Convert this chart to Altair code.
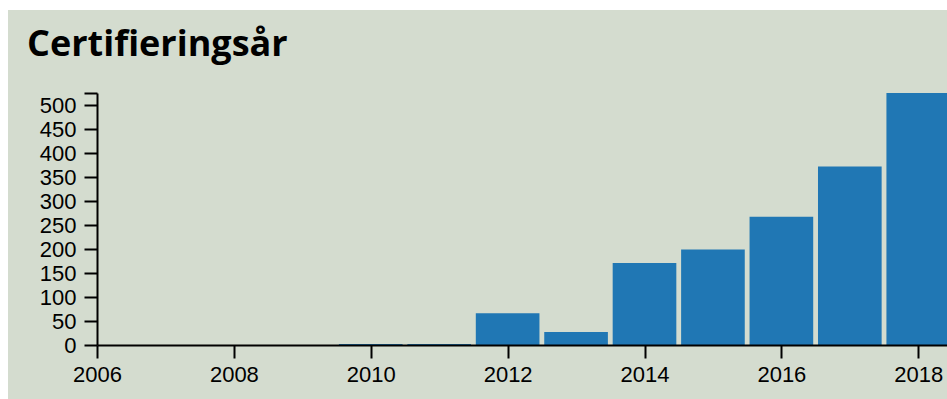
import altair as alt
import pandas as pd

years = [2010, 2011, 2012, 2013, 2014, 2015, 2016, 2017, 2018]
counts = [2, 2, 66, 27, 171, 199, 267, 372, 525]
x_ticks = [2006, 2008, 2010, 2012, 2014, 2016, 2018]
y_ticks = [0, 50, 100, 150, 200, 250, 300, 350, 400, 450, 500, 525]
title_text = ["Certifieringsår"]

BG = "#d4dccf"
BAR = "#2077b4"

df = pd.DataFrame({"year": years, "count": counts})

W, H = 850, 252
PAD_L, PAD_T, PAD_B = 97, 93, 54

bg = alt.Chart(pd.DataFrame({"a": [0]})).mark_rect(color=BG).encode(
    x=alt.value(8 - PAD_L), x2=alt.value(W + 5),
    y=alt.value(10 - PAD_T), y2=alt.value(H + PAD_B + 5),
)

title = alt.Chart(pd.DataFrame({"t": title_text})).mark_text(
    font="Open Sans", fontWeight="bold", fontSize=36, color="black",
    align="left", baseline="alphabetic",
).encode(text="t:N", x=alt.value(-70), y=alt.value(56 - PAD_T))

axis_common = dict(title=None, grid=False, tickSize=13, tickWidth=2, domainWidth=2,
                   domainColor="black", tickColor="black", labelFontSize=22,
                   labelFont="Liberation Sans", labelColor="black",
                   labelOverlap=False, labelFlush=False, zindex=1)

bars = alt.Chart(df).transform_calculate(
    x0="datum.year - 0.465", x1="datum.year + 0.465"
).mark_rect(color=BAR, clip=True).encode(
    x=alt.X("x0:Q", scale=alt.Scale(domain=[2006, 2018.42], nice=False, zero=False),
            axis=alt.Axis(values=x_ticks, format="d", labelPadding=6, **axis_common)),
    x2="x1:Q",
    y=alt.Y("count:Q", scale=alt.Scale(domain=[0, 525], nice=False),
            axis=alt.Axis(values=y_ticks, labelPadding=8,
                          labelExpr="datum.value > 500 ? '' : datum.label",
                          **axis_common)),
)

chart = alt.layer(bg, bars, title).properties(
    width=W, height=H,
    background="white",
    padding={"left": PAD_L, "top": PAD_T, "right": 0, "bottom": PAD_B},
    autosize=alt.AutoSizeParams(type="none"),
).configure_view(stroke=None)

chart.save("out.html", embed_options={"renderer": "svg", "actions": False})
